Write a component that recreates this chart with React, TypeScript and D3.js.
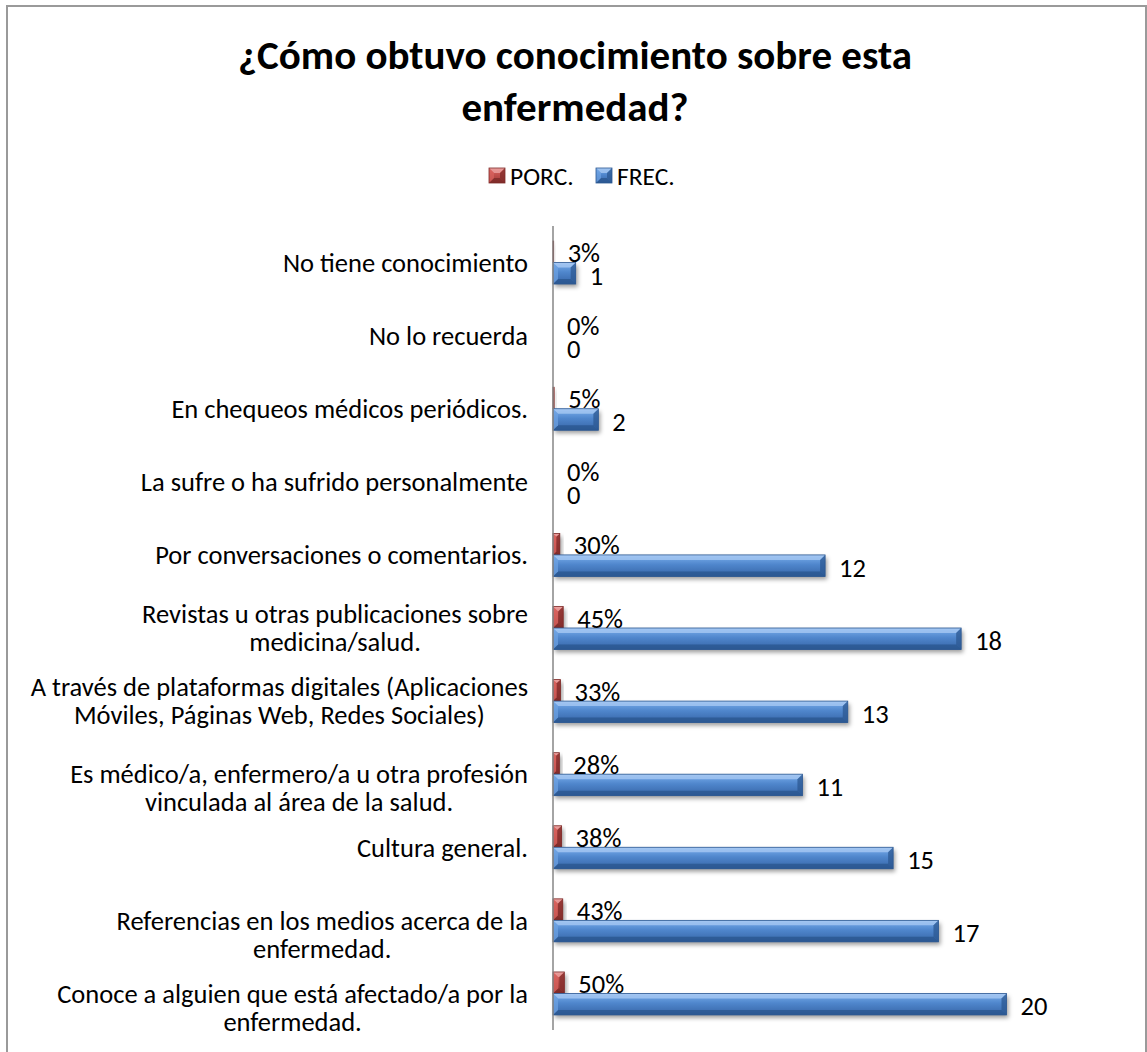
import React, { useEffect, useRef } from "react";
import * as d3 from "d3";

const W = 1147;
const H = 1052;

const titleLines = ["¿Cómo obtuvo conocimiento sobre esta", "enfermedad?"];
const seriesNames = ["PORC.", "FREC."];

// "\n" marks line breaks in the category labels as they are wrapped in the chart
const categories = [
  "No tiene conocimiento",
  "No lo recuerda",
  "En chequeos médicos periódicos.",
  "La sufre o ha sufrido personalmente",
  "Por conversaciones o comentarios.",
  "Revistas u otras publicaciones sobre\nmedicina/salud.",
  "A través de plataformas digitales (Aplicaciones\nMóviles, Páginas Web, Redes Sociales)",
  "\nEs médico/a, enfermero/a u otra profesión\nvinculada al área de la salud.",
  "Cultura general.",
  "\nReferencias en los medios acerca de la\nenfermedad.",
  "\nConoce a alguien que está afectado/a por la\nenfermedad.",
];
const porc = [0.03, 0, 0.05, 0, 0.3, 0.45, 0.33, 0.28, 0.38, 0.43, 0.5];
const frec = [1, 0, 2, 0, 12, 18, 13, 11, 15, 17, 20];

const FONT = "Carlito, Calibri, Lato, 'Open Sans', sans-serif";
const FS = 26.5;

const palettes: Record<string, string[]> = {
  red: ["#eaa3a1", "#d8625e", "#c0504d", "#a53e3b", "#7e2b29"],
  blue: ["#a6c8f2", "#6fa4e4", "#4f86cc", "#3d6eb1", "#2c5892"],
};

export default function App() {
  const ref = useRef<SVGSVGElement | null>(null);

  useEffect(() => {
    const svg = d3.select(ref.current);
    svg.selectAll("*").remove();

    const defs = svg.append("defs");
    const f = defs.append("filter").attr("id", "shadow").attr("x", "-20%").attr("y", "-50%").attr("width", "140%").attr("height", "200%");
    f.append("feGaussianBlur").attr("stdDeviation", 2.2);

    Object.entries(palettes).forEach(([k, c]) => {
      const g = defs.append("linearGradient").attr("id", "grad-" + k).attr("x1", 0).attr("y1", 0).attr("x2", 0).attr("y2", 1);
      [0, 0.12, 0.45, 0.85, 1].forEach((o, i) => g.append("stop").attr("offset", o).attr("stop-color", c[i]));
    });

    svg.append("rect").attr("width", W).attr("height", H).attr("fill", "#fff");
    svg.append("rect").attr("x", 7).attr("y", 6).attr("width", 1139).attr("height", 1100)
      .attr("fill", "none").attr("stroke", "#9a9a9a").attr("stroke-width", 2);

    // Title
    const title = svg.append("text").attr("text-anchor", "middle").attr("font-family", FONT)
      .attr("font-weight", "bold").attr("font-size", 41).attr("fill", "#000");
    titleLines.forEach((t, i) => title.append("tspan").attr("x", 575).attr("y", 69 + i * 52).text(t));

    function bevelBar(g: any, x: number, y: number, w: number, h: number, key: string, shadow = true) {
      if (w <= 0) return;
      const c = palettes[key];
      if (shadow) {
        g.append("rect").attr("x", x + 2).attr("y", y + 3).attr("width", w).attr("height", h)
          .attr("fill", "rgba(0,0,0,0.38)").attr("filter", "url(#shadow)");
      }
      g.append("rect").attr("x", x).attr("y", y).attr("width", w).attr("height", h).attr("fill", `url(#grad-${key})`);
      const b = Math.min(5, w / 2, h / 3);
      const poly = (pts: number[][], fill: string, op: number) =>
        g.append("polygon").attr("points", pts.map((p) => p.join(",")).join(" ")).attr("fill", fill).attr("opacity", op);
      poly([[x, y], [x + w, y], [x + w - b, y + b], [x + b, y + b]], c[0], 0.8);
      poly([[x, y + h], [x + w, y + h], [x + w - b, y + h - b], [x + b, y + h - b]], c[4], 0.85);
      poly([[x, y], [x + b, y + b], [x + b, y + h - b], [x, y + h]], c[1], 0.7);
      poly([[x + w, y], [x + w - b, y + b], [x + w - b, y + h - b], [x + w, y + h]], c[4], 0.75);
      g.append("rect").attr("x", x).attr("y", y).attr("width", w).attr("height", h)
        .attr("fill", "none").attr("stroke", c[4]).attr("stroke-width", 0.8);
    }

    // Legend
    const lg = svg.append("g");
    const legendItems = [
      { name: seriesNames[0], key: "red", x: 489 },
      { name: seriesNames[1], key: "blue", x: 596 },
    ];
    legendItems.forEach((it) => {
      bevelBar(lg, it.x, 168, 16, 15, it.key, false);
      lg.append("text").attr("x", it.x + 21).attr("y", 176).attr("dy", "0.35em")
        .attr("font-family", FONT).attr("font-size", 25.5).attr("fill", "#000").text(it.name);
    });

    // Plot
    const x0 = 553;
    const x = d3.scaleLinear().domain([0, 20]).range([x0, 1006.5]);
    const y = d3.scaleBand().domain(categories).range([226, 1030]).padding(0);
    const bh = y.bandwidth() * 0.294;

    const plot = svg.append("g");
    categories.forEach((cat, i) => {
      const cy = (y(cat) as number) + y.bandwidth() / 2;
      const ry = cy - bh;
      const wr = x(porc[i]) - x0;
      const wb = x(frec[i]) - x0;
      bevelBar(plot, x0, ry, wr, bh, "red");
      bevelBar(plot, x0, cy, wb, bh, "blue");
    });

    // axis line
    svg.append("line").attr("x1", x0).attr("x2", x0).attr("y1", 226).attr("y2", 1030)
      .attr("stroke", "#868686").attr("stroke-width", 1.5);

    // Data labels
    const fmt = d3.format(".0%");
    categories.forEach((cat, i) => {
      const cy = (y(cat) as number) + y.bandwidth() / 2;
      svg.append("text").attr("x", x(porc[i]) + 14).attr("y", cy - bh / 2 + 1).attr("dy", "0.35em")
        .attr("font-family", FONT).attr("font-size", FS).attr("fill", "#000").text(fmt(porc[i]));
      svg.append("text").attr("x", x(frec[i]) + 14).attr("y", cy + bh / 2 + 2).attr("dy", "0.35em")
        .attr("font-family", FONT).attr("font-size", FS).attr("fill", "#000").text(String(frec[i]));
    });

    // Category labels (lines centred on each other, block right-aligned to the axis)
    const lineH = 28;
    categories.forEach((cat) => {
      const cy = (y(cat) as number) + y.bandwidth() / 2;
      const lines = cat.split("\n");
      const tg = svg.append("g");
      const texts = lines.map((ln, j) =>
        tg.append("text").attr("y", cy + (j - (lines.length - 1) / 2) * lineH).attr("dy", "0.35em")
          .attr("font-family", FONT).attr("font-size", FS).attr("fill", "#000").attr("text-anchor", "middle").text(ln)
      ).filter((_, j) => lines[j].length > 0);
      const widths = texts.map((t) => (t.node() as SVGTextElement).getComputedTextLength());
      const maxW = Math.max(...widths);
      const cx = 528 - maxW / 2;
      texts.forEach((t) => t.attr("x", cx));
    });
  }, []);

  return (
    <svg ref={ref} width={W} height={H} style={{ position: "absolute", left: 0, top: 0 }} />
  );
}
